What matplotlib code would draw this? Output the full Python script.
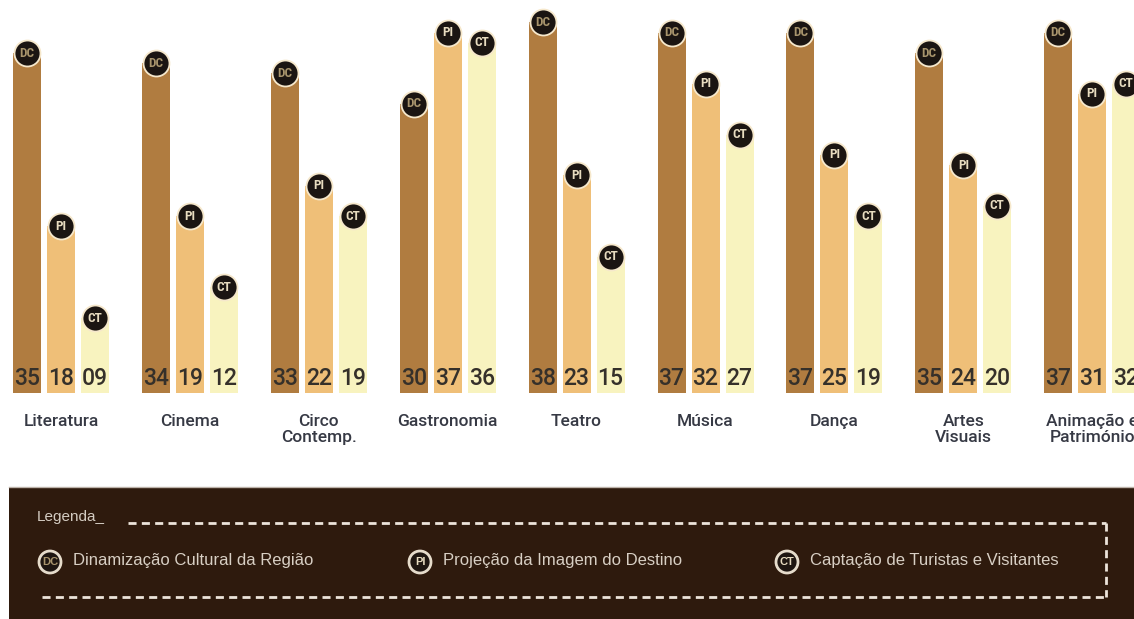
import matplotlib
matplotlib.use('Agg')
import matplotlib.pyplot as plt
import numpy as np
from matplotlib.patches import Rectangle, Circle
from matplotlib.lines import Line2D

# ---------------- data ----------------
categories = ['Literatura', 'Cinema', 'Circo\nContemp.', 'Gastronomia', 'Teatro',
              'Música', 'Dança', 'Artes\nVisuais', 'Animação e\nPatrimónio']
dc_values = [35, 34, 33, 30, 38, 37, 37, 35, 37]
pi_values = [18, 19, 22, 37, 23, 32, 25, 24, 31]
ct_values = [9, 12, 19, 36, 15, 27, 19, 20, 32]
series_codes = ['DC', 'PI', 'CT']
series_names = ['Dinamização Cultural da Região', 'Projeção da Imagem do Destino',
                'Captação de Turistas e Visitantes']
legend_title = 'Legenda_'

# ---------------- style ----------------
plt.rcParams['font.family'] = ['Liberation Sans', 'DejaVu Sans']
bar_colors = ['#b07c40', '#efbf78', '#f8f3bf']
code_colors = ['#a8946c', '#e8dcc0', '#e8dcc0']
W, H = 1134, 619
fig = plt.figure(figsize=(W / 100, H / 100), dpi=100)
fig.patch.set_facecolor('white')

ax = fig.add_axes([0, (H - 393) / H, 1, 393 / H])
ax.set_facecolor('none')
for s in ax.spines.values():
    s.set_visible(False)

x = np.arange(len(categories))
step = 34 / 128.9
width = 28 / 128.9
series = [dc_values, pi_values, ct_values]
for k, vals in enumerate(series):
    xs = x + (k - 1) * step
    ax.bar(xs, vals, width=width, color=bar_colors[k], zorder=2)
    ax.scatter(xs, vals, s=350, color='#1b1512', edgecolor='#f6e8cc',
               linewidth=1.3, zorder=4, clip_on=False)
    for xi, v in zip(xs, vals):
        ax.text(xi, v, series_codes[k], ha='center', va='center', fontsize=9.5,
                fontweight='bold', color=code_colors[k], zorder=5, clip_on=False,
                family=['Roboto Condensed', 'Liberation Sans Narrow', 'Liberation Sans'])
        ax.annotate('%02d' % v, xy=(xi, 0), xycoords=('data', 'axes fraction'),
                    xytext=(0, 10.5), textcoords='offset points', ha='center',
                    va='center', fontsize=16.5, color='#35302a', zorder=3,
                    family=['Roboto', 'Liberation Sans'], fontweight=500)

ax.set_ylim(1.65, 40.2)
ax.set_xlim(-61 / 128.9, (W - 61) / 128.9)
ax.set_yticks([])
ax.set_xticks(x)
ax.set_xticklabels(categories, fontsize=12.5, color='#363944', linespacing=1.1,
                   fontfamily=['Roboto', 'Liberation Sans'], fontweight=500)
ax.tick_params(axis='x', length=0, pad=15)

# ---------------- legend panel ----------------
lg = fig.add_axes([0, 0, 1, (H - 485) / H])
lg.set_xlim(0, W)
lg.set_ylim(H, 485)
lg.axis('off')
lg.add_patch(Rectangle((9, 487), W - 9, H - 487, facecolor='#2e1a0d', edgecolor='none'))
lg.add_line(Line2D([9, W], [487, 487], color='#bdb3aa', lw=1.0))
lg.text(37, 517, legend_title, fontsize=11, color='#d4ccc2', va='center', ha='left')
dash_kw = dict(color='#ece4da', lw=2, dashes=(2.9, 1.9))
lg.add_line(Line2D([128, 1106], [523, 523], **dash_kw))
lg.add_line(Line2D([1106, 1106], [523, 597], **dash_kw))
lg.add_line(Line2D([42, 1106], [597, 597], **dash_kw))

item_cx = [50, 420, 787]
for k in range(3):
    lg.add_patch(Circle((item_cx[k], 562), 11, facecolor='#1e1611',
                        edgecolor='#e6dccb', lw=2))
    lg.text(item_cx[k], 562, series_codes[k], ha='center', va='center', fontsize=8,
            fontweight='bold', color=code_colors[k])
    lg.text(item_cx[k] + 23, 561, series_names[k], ha='left', va='center',
            fontsize=12, color='#d8cfc4')

fig.savefig('out.png', dpi=100)
